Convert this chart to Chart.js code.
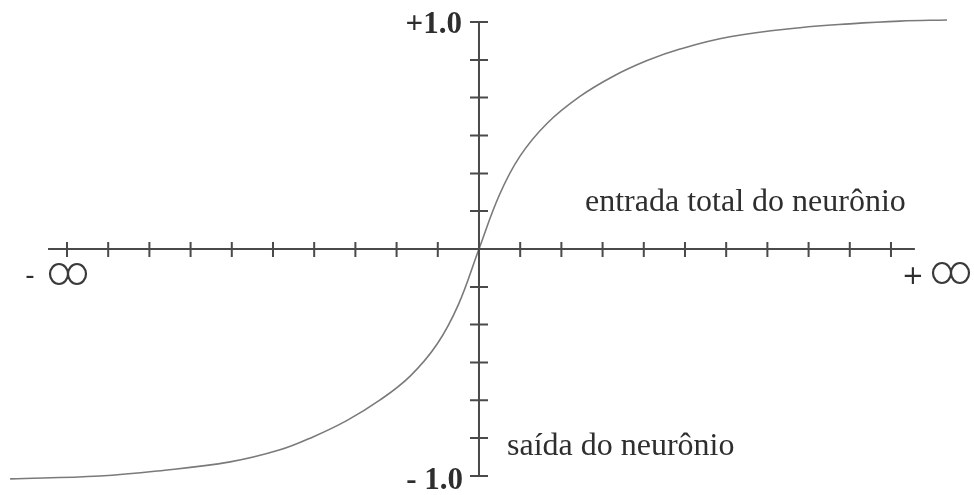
<!DOCTYPE html>
<html>
<head>
<meta charset="utf-8">
<script src="https://cdn.jsdelivr.net/npm/chart.js@4"></script>
<style>
  html, body { margin: 0; padding: 0; background: #fff; }
  #wrap { width: 974px; height: 495px; }
</style>
</head>
<body>
<div id="wrap"><canvas id="sigmoidChart"></canvas></div>
<script>
// curve (x in tick units, y in output units)
const curveX = [-11.38, -9.2, -7.8, -6.04, -4.83, -4.03, -3.2, -2.4, -1.67, -1.02, -0.5, 0,
                0.5, 1.0, 1.65, 2.45, 3.25, 4.08, 4.88, 6.09, 7.79, 9.0, 10.22, 11.36];
const curveY = [-1.013, -1.0, -0.978, -0.938, -0.885, -0.828, -0.755, -0.665, -0.56, -0.42, -0.245, 0,
                0.24, 0.41, 0.553, 0.672, 0.76, 0.83, 0.881, 0.935, 0.975, 0.992, 1.004, 1.009];

// axis ticks
const xTicks = [-10, -9, -8, -7, -6, -5, -4, -3, -2, -1, 1, 2, 3, 4, 5, 6, 7, 8, 9, 10];
const yTicks = [-1, -0.833, -0.667, -0.5, -0.333, -0.167, 0.167, 0.333, 0.5, 0.667, 0.833, 1];
const xAxisEnds = [-10.46, 10.58];
const yAxisEnds = [-1, 1];

// texts
const yTopLabel = '+1.0';
const yBottomLabel = '- 1.0';
const xLeftLabel = '-';
const xRightLabel = '+';
const inputLabel = 'entrada total do neurônio';
const outputLabel = 'saída do neurônio';

const axesPlugin = {
    id: 'centerAxes',
    afterDatasetsDraw(chart) {
        const ctx = chart.ctx;
        const xs = chart.scales.x, ys = chart.scales.y;
        const x0 = xs.getPixelForValue(0), y0 = ys.getPixelForValue(0);
        ctx.save();
        ctx.strokeStyle = '#4a4a4a';
        ctx.lineWidth = 2;
        ctx.beginPath();
        // horizontal axis
        ctx.moveTo(xs.getPixelForValue(xAxisEnds[0]), y0);
        ctx.lineTo(xs.getPixelForValue(xAxisEnds[1]), y0);
        // vertical axis
        ctx.moveTo(x0, ys.getPixelForValue(yAxisEnds[0]));
        ctx.lineTo(x0, ys.getPixelForValue(yAxisEnds[1]));
        xTicks.forEach(function (v) {
            const p = xs.getPixelForValue(v);
            ctx.moveTo(p, y0 - 7);
            ctx.lineTo(p, y0 + 8);
        });
        yTicks.forEach(function (v) {
            const p = ys.getPixelForValue(v);
            ctx.moveTo(x0 - 9, p);
            ctx.lineTo(x0 + 9, p);
        });
        ctx.stroke();

        ctx.fillStyle = '#2e2e2e';
        ctx.textBaseline = 'alphabetic';
        ctx.font = 'bold 31px "Liberation Serif"';
        ctx.textAlign = 'right';
        ctx.fillText(yTopLabel, x0 - 17, ys.getPixelForValue(1) + 11);
        ctx.fillText(yBottomLabel, x0 - 16, ys.getPixelForValue(-1) + 13);

        ctx.font = '32px "Liberation Serif"';
        ctx.textAlign = 'left';
        ctx.fillText(inputLabel, x0 + 106, y0 - 38);
        ctx.fillText(outputLabel, x0 + 28, y0 + 206);

        // infinity labels, drawn wide like the scan
        ctx.font = '26px "DejaVu Sans"';
        ctx.textAlign = 'center';
        ctx.fillText(xLeftLabel, 30, y0 + 35);
        ctx.fillText(xRightLabel, 913, y0 + 35);
        ctx.lineWidth = 2.2;
        ctx.strokeStyle = '#3a3a3a';
        [[68, y0 + 25], [951, y0 + 24]].forEach(function (c) {
            ctx.beginPath();
            ctx.ellipse(c[0] - 9, c[1], 9, 10, 0, 0, Math.PI * 2);
            ctx.moveTo(c[0] + 18, c[1]);
            ctx.ellipse(c[0] + 9, c[1], 9, 10, 0, 0, Math.PI * 2);
            ctx.stroke();
        });
        ctx.restore();
    }
};

new Chart(document.getElementById('sigmoidChart'), {
    type: 'line',
    data: {
        datasets: [
            {
                label: 'saída',
                data: curveX.map(function (x, i) { return { x: x, y: curveY[i] }; }),
                borderColor: '#7a7a7a',
                borderWidth: 1.6,
                pointRadius: 0,
                fill: false,
                tension: 0.4,
                clip: false,
            },
        ],
    },
    options: {
        responsive: true,
        maintainAspectRatio: false,
        animation: false,
        layout: { padding: 0 },
        plugins: {
            legend: { display: false },
            tooltip: { enabled: false },
        },
        scales: {
            x: { type: 'linear', display: false, min: -11.626, max: 12.015 },
            y: { type: 'linear', display: false, min: -1.084, max: 1.097 },
        },
    },
    plugins: [axesPlugin],
});
</script>
</body>
</html>
